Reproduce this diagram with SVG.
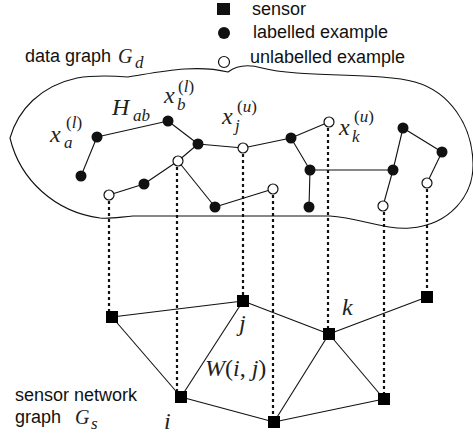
<svg xmlns="http://www.w3.org/2000/svg" width="473" height="435" viewBox="0 0 473 435">
<style>
.t{font-family:"Liberation Sans",Arial,sans-serif;font-size:18px;fill:#111}
.m{font-family:"Liberation Serif","DejaVu Serif",serif;font-style:italic;font-size:24px;fill:#222}
.g{font-family:"Liberation Serif","DejaVu Serif",serif;font-style:italic;font-size:20px;fill:#222}
.s{font-family:"Liberation Serif","DejaVu Serif",serif;font-style:italic;font-size:17px;fill:#222}
.up{font-style:normal}
.e{stroke:#111;stroke-width:1.1;fill:none}
.d{stroke:#111;stroke-width:2.2;stroke-dasharray:3 3;fill:none}
.f{fill:#111}
.o{fill:#fff;stroke:#111;stroke-width:1.2}
.sq{fill:#111}
</style>
<defs>
<rect id="sq" x="-6" y="-6" width="12" height="12"/>
</defs>
<g id="legend">
<rect x="217" y="3" width="13" height="12" class="sq"/>
<text x="252" y="15" class="t">sensor</text>
<circle cx="224" cy="33" r="6" class="f"/>
<text x="253" y="38" class="t">labelled example</text>
<circle cx="224" cy="62" r="5.5" class="o"/>
<text x="250" y="63" class="t">unlabelled example</text>
</g>
<g id="data-graph-label">
<text x="25" y="62" class="t">data graph</text>
<text x="118" y="63" class="g">G</text><text x="135" y="68" class="s">d</text>
</g>
<g id="data-graph-boundary">
<path class="e" d="M10,138 C18,110 40,86 77,78 C95,75 115,76 128,77 C160,72 195,64 228,72 C236,66 248,64 262,68 C300,78 380,72 415,82 C450,92 472,125 473,163 C474,195 450,225 410,228 C385,230 360,218 330,216 L133,216 C120,217 110,219 100,218 C55,212 20,180 10,138 Z"/>
</g>
<g id="connectors">
<g id="data-edges">
<line class="e" x1="97" y1="137" x2="81" y2="176"/>
<line class="e" x1="97" y1="137" x2="168" y2="121"/>
<line class="e" x1="168" y1="121" x2="198" y2="144"/>
<line class="e" x1="198" y1="144" x2="243" y2="148"/>
<line class="e" x1="198" y1="144" x2="178" y2="161"/>
<line class="e" x1="178" y1="161" x2="144" y2="184"/>
<line class="e" x1="144" y1="184" x2="109" y2="195"/>
<line class="e" x1="178" y1="161" x2="215" y2="207"/>
<line class="e" x1="215" y1="207" x2="273" y2="189"/>
<line class="e" x1="243" y1="148" x2="291" y2="138"/>
<line class="e" x1="291" y1="138" x2="329" y2="122"/>
<line class="e" x1="291" y1="138" x2="310" y2="170"/>
<line class="e" x1="310" y1="170" x2="309" y2="207"/>
<line class="e" x1="310" y1="170" x2="393" y2="170"/>
<line class="e" x1="393" y1="170" x2="403" y2="128"/>
<line class="e" x1="403" y1="128" x2="442" y2="152"/>
<line class="e" x1="442" y1="152" x2="427" y2="183"/>
<line class="e" x1="393" y1="170" x2="383" y2="206"/>
</g>
<g id="mappings">
<line class="d" x1="109" y1="201" x2="109" y2="312"/>
<line class="d" x1="177" y1="167" x2="177" y2="392"/>
<line class="d" x1="243" y1="154" x2="243" y2="295"/>
<line class="d" x1="273" y1="195" x2="273" y2="417"/>
<line class="d" x1="328" y1="128" x2="328" y2="329"/>
<line class="d" x1="384" y1="212" x2="384" y2="394"/>
<line class="d" x1="427" y1="189" x2="427" y2="292"/>
</g>
<g id="sensor-edges">
<line class="e" x1="112" y1="317" x2="243" y2="301"/>
<line class="e" x1="112" y1="317" x2="181" y2="397"/>
<line class="e" x1="181" y1="397" x2="243" y2="301"/>
<line class="e" x1="181" y1="397" x2="274" y2="422"/>
<line class="e" x1="243" y1="301" x2="329" y2="334"/>
<line class="e" x1="329" y1="334" x2="427" y2="297"/>
<line class="e" x1="329" y1="334" x2="274" y2="422"/>
<line class="e" x1="329" y1="334" x2="384" y2="399"/>
<line class="e" x1="384" y1="399" x2="274" y2="422"/>
</g>
</g>
<g id="data-nodes">
<circle id="xa" cx="97" cy="137" r="5.5" class="f"/>
<circle id="n2" cx="81" cy="176" r="5.5" class="f"/>
<circle id="xb" cx="168" cy="121" r="5.5" class="f"/>
<circle id="n4" cx="198" cy="144" r="5.5" class="f"/>
<circle id="n5" cx="178" cy="161" r="5" class="o"/>
<circle id="n6" cx="144" cy="184" r="5.5" class="f"/>
<circle id="n7" cx="109" cy="195" r="5" class="o"/>
<circle id="n8" cx="215" cy="207" r="5.5" class="f"/>
<circle id="xj" cx="243" cy="148" r="5" class="o"/>
<circle id="n10" cx="273" cy="189" r="5" class="o"/>
<circle id="n11" cx="291" cy="138" r="5.5" class="f"/>
<circle id="xk" cx="329" cy="122" r="5" class="o"/>
<circle id="n13" cx="310" cy="170" r="5.5" class="f"/>
<circle id="n14" cx="309" cy="207" r="5.5" class="f"/>
<circle id="n15" cx="393" cy="170" r="5.5" class="f"/>
<circle id="n16" cx="403" cy="128" r="5.5" class="f"/>
<circle id="n17" cx="442" cy="152" r="5.5" class="f"/>
<circle id="n18" cx="427" cy="183" r="5" class="o"/>
<circle id="n19" cx="383" cy="206" r="5" class="o"/>
</g>
<g id="data-labels">
<text x="50" y="142" class="m">x</text><text x="64" y="148" class="s">a</text><text x="66" y="128" class="s"><tspan class="up">(</tspan>l<tspan class="up">)</tspan></text>
<text x="112" y="115" class="m">H</text><text x="133" y="121" class="s">ab</text>
<text x="164" y="103" class="m">x</text><text x="177" y="110" class="s">b</text><text x="178" y="92" class="s"><tspan class="up">(</tspan>l<tspan class="up">)</tspan></text>
<text x="222" y="124" class="m">x</text><text x="235" y="131" class="s">j</text><text x="237" y="112" class="s"><tspan class="up">(</tspan>u<tspan class="up">)</tspan></text>
<text x="339" y="135" class="m">x</text><text x="352" y="142" class="s">k</text><text x="354" y="122" class="s"><tspan class="up">(</tspan>u<tspan class="up">)</tspan></text>
</g>
<g id="sensors">
<use id="s1" href="#sq" x="112" y="317"/>
<use id="sj" href="#sq" x="243" y="301"/>
<use id="sk" href="#sq" x="329" y="334"/>
<use id="s4" href="#sq" x="427" y="297"/>
<use id="si" href="#sq" x="181" y="397"/>
<use id="s6" href="#sq" x="274" y="422"/>
<use id="s7" href="#sq" x="384" y="399"/>
</g>
<g id="sensor-labels">
<text x="239" y="331" class="m">j</text>
<text x="342" y="315" class="m">k</text>
<text x="205" y="376" class="m">W<tspan class="up">(</tspan>i<tspan class="up">, </tspan>j<tspan class="up">)</tspan></text>
<text x="164" y="429" class="m">i</text>
</g>
<g id="sensor-graph-label">
<text x="15" y="401" class="t">sensor network</text>
<text x="15" y="423" class="t">graph</text>
<text x="75" y="424" class="g">G</text><text x="91" y="429" class="s">s</text>
</g>
</svg>
